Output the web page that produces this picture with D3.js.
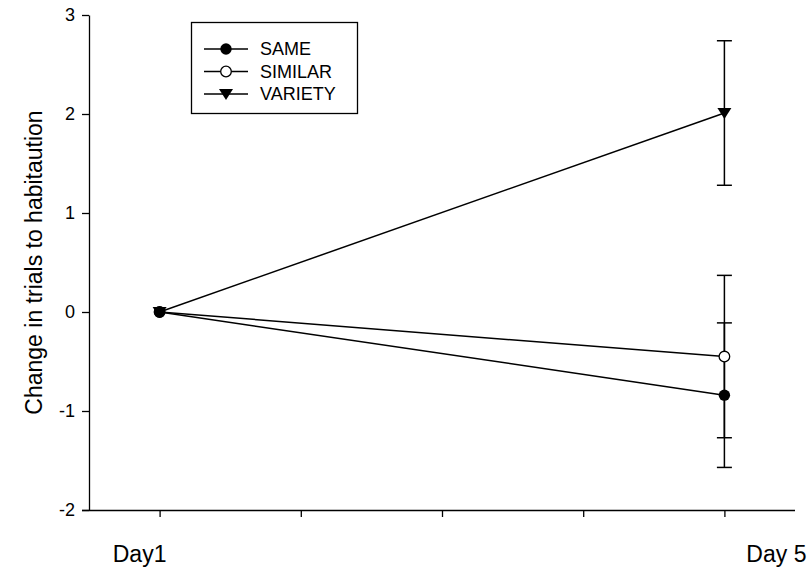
<!DOCTYPE html>
<html lang="en">
<head>
  <meta charset="UTF-8" />
  <title>Change in trials to habituation</title>
  <script src="https://d3js.org/d3.v7.min.js"></script>
  <style>
    body {
      margin: 0;
      padding: 0;
      background-color: #fff;
    }
    svg {
      display: block;
      font-family: Arial, "Liberation Sans", sans-serif;
    }
    .axis path, .axis line {
      stroke: #000;
      stroke-width: 1.3px;
    }
    .axis text {
      font-size: 18px;
      fill: #000;
    }
  </style>
</head>
<body>
  <svg width="811" height="572"></svg>

  <script>
    // data
    const days = [1, 5];
    const dayLabels = ["Day1", "Day 5"];
    const yTicks = [-2, -1, 0, 1, 2, 3];
    const xTicks = [1, 2, 3, 4, 5];

    const variety = [0, 2.01];
    const similar = [0, -0.45];
    const same = [0, -0.84];
    // standard error at each day (none drawn on Day1)
    const varietyErr = [0, 0.73];
    const similarErr = [0, 0.82];
    const sameErr = [0, 0.73];

    const legendOrder = ["SAME", "SIMILAR", "VARIETY"];

    const svg = d3.select("svg");

    const x = d3.scaleLinear().domain([0.5, 5.5]).range([89, 795]);
    const y = d3.scaleLinear().domain([-2, 3]).range([510, 15]);

    const series = [
      { name: "VARIETY", values: variety, err: varietyErr, shape: "tri" },
      { name: "SIMILAR", values: similar, err: similarErr, shape: "open" },
      { name: "SAME", values: same, err: sameErr, shape: "dot" }
    ];

    const triPath = "M-7,-5L7,-5L0,6Z";

    function drawMarker(g, shape) {
      if (shape === "tri") {
        g.append("path").attr("d", triPath).attr("fill", "#000");
      } else if (shape === "open") {
        g.append("circle").attr("r", 5.3)
          .attr("fill", "#fff").attr("stroke", "#000").attr("stroke-width", 1.3);
      } else {
        g.append("circle").attr("r", 5.7).attr("fill", "#000");
      }
    }

    // y axis
    svg.append("g")
      .attr("class", "axis")
      .attr("transform", "translate(" + x(0.5) + ",0)")
      .call(d3.axisLeft(y).tickValues(yTicks).tickSize(7).tickSizeOuter(0).tickPadding(7)
        .tickFormat(d => String(d)));

    // x axis (ticks only, labels placed separately)
    const xAxis = svg.append("g")
      .attr("class", "axis")
      .attr("transform", "translate(0," + y(-2) + ")")
      .call(d3.axisBottom(x).tickValues(xTicks).tickSize(7).tickSizeOuter(0).tickFormat(""));
    xAxis.select(".domain").attr("d", "M" + (x(0.5) - 7) + ",0.5H" + x(5.5));

    // x labels sit off their ticks in the original
    const labelShift = [-20, 52];
    svg.selectAll(".day-label")
      .data(days)
      .enter().append("text")
      .attr("class", "day-label")
      .attr("x", (d, i) => x(d) + labelShift[i])
      .attr("y", y(-2) + 52)
      .attr("text-anchor", "middle")
      .attr("font-size", 23)
      .text((d, i) => dayLabels[i]);

    // y title
    svg.append("text")
      .attr("transform", "translate(42," + y(0.5) + ") rotate(-90)")
      .attr("text-anchor", "middle")
      .attr("font-size", 23)
      .text("Change in trials to habitaution");

    // error bars
    series.forEach(s => {
      days.forEach((d, i) => {
        if (!s.err[i]) return;
        const g = svg.append("g");
        const top = y(s.values[i] + s.err[i]);
        const bot = y(s.values[i] - s.err[i]);
        g.append("line")
          .attr("x1", x(d)).attr("x2", x(d))
          .attr("y1", top).attr("y2", bot)
          .attr("stroke", "#000").attr("stroke-width", 1.5);
        [top, bot].forEach(v => {
          g.append("line")
            .attr("x1", x(d) - 7.5).attr("x2", x(d) + 7.5)
            .attr("y1", v).attr("y2", v)
            .attr("stroke", "#000").attr("stroke-width", 1.5);
        });
      });
    });

    // lines
    const line = d3.line()
      .x((v, i) => x(days[i]))
      .y(v => y(v));

    series.forEach(s => {
      svg.append("path")
        .datum(s.values)
        .attr("d", line)
        .attr("fill", "none")
        .attr("stroke", "#000")
        .attr("stroke-width", 1.5);
    });

    // markers
    series.forEach(s => {
      s.values.forEach((v, i) => {
        const g = svg.append("g")
          .attr("transform", "translate(" + x(days[i]) + "," + y(v) + ")");
        drawMarker(g, s.shape);
      });
    });

    // legend
    const legend = svg.append("g");
    legend.append("rect")
      .attr("x", 191.5).attr("y", 22.5)
      .attr("width", 166).attr("height", 91)
      .attr("fill", "#fff").attr("stroke", "#000").attr("stroke-width", 1.3);

    legendOrder.forEach((name, i) => {
      const s = series.find(d => d.name === name);
      const ly = 49 + i * 22.5;
      legend.append("line")
        .attr("x1", 204).attr("x2", 248)
        .attr("y1", ly).attr("y2", ly)
        .attr("stroke", "#000").attr("stroke-width", 1.5);
      const g = legend.append("g").attr("transform", "translate(226," + ly + ")");
      drawMarker(g, s.shape);
      legend.append("text")
        .attr("x", 260).attr("y", ly)
        .attr("dy", "0.35em")
        .attr("font-size", 18)
        .text(name);
    });
  </script>
</body>
</html>
